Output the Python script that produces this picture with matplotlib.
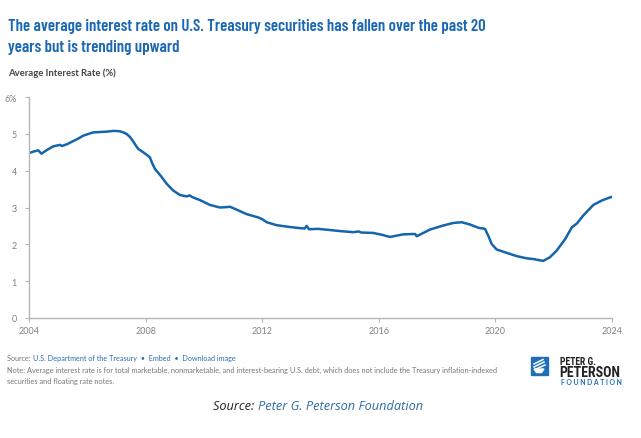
import matplotlib
matplotlib.use("Agg")
import matplotlib.pyplot as plt
from matplotlib.patches import Rectangle, Polygon

years = [2004.0, 2004.15, 2004.31, 2004.42, 2004.6, 2004.82, 2005.05, 2005.12, 2005.3, 2005.5,
         2005.7, 2005.85, 2006.0, 2006.2, 2006.45, 2006.66, 2006.9, 2007.1, 2007.23, 2007.35,
         2007.46, 2007.57, 2007.66, 2007.74, 2007.91, 2008.05, 2008.14, 2008.22, 2008.31, 2008.49,
         2008.72, 2008.94, 2009.17, 2009.4, 2009.5, 2009.6, 2009.86, 2010.2, 2010.54, 2010.75,
         2010.89, 2011.12, 2011.46, 2011.86, 2012.0, 2012.15, 2012.49, 2012.95, 2013.29, 2013.45,
         2013.52, 2013.6, 2013.92, 2014.3, 2014.66, 2015.12, 2015.3, 2015.4, 2015.8, 2016.1,
         2016.38, 2016.83, 2017.15, 2017.24, 2017.3, 2017.75, 2018.2, 2018.55, 2018.84, 2019.12,
         2019.41, 2019.64, 2019.75, 2019.87, 2020.04, 2020.38, 2020.73, 2021.07, 2021.3, 2021.64,
         2021.87, 2022.1, 2022.39, 2022.62, 2022.8, 2023.01, 2023.36, 2023.65, 2023.85, 2023.99]
rates = [4.48, 4.52, 4.55, 4.46, 4.56, 4.66, 4.70, 4.67, 4.72, 4.80,
         4.88, 4.95, 4.99, 5.04, 5.05, 5.06, 5.08, 5.07, 5.04, 4.99,
         4.91, 4.79, 4.68, 4.59, 4.50, 4.42, 4.36, 4.20, 4.05, 3.88,
         3.64, 3.46, 3.34, 3.30, 3.33, 3.28, 3.20, 3.07, 3.00, 3.01,
         3.02, 2.94, 2.82, 2.73, 2.68, 2.60, 2.52, 2.47, 2.44, 2.43,
         2.50, 2.41, 2.42, 2.39, 2.36, 2.33, 2.35, 2.32, 2.31, 2.26,
         2.20, 2.27, 2.28, 2.28, 2.22, 2.40, 2.51, 2.58, 2.60, 2.54,
         2.45, 2.42, 2.24, 2.01, 1.86, 1.77, 1.68, 1.62, 1.60, 1.55,
         1.65, 1.83, 2.14, 2.46, 2.57, 2.78, 3.07, 3.19, 3.25, 3.29]

x_ticks = [2004, 2008, 2012, 2016, 2020, 2024]
y_ticks = [0, 1, 2, 3, 4, 5, 6]
y_labels = ["0", "1", "2", "3", "4", "5", "6%"]

BLUE = "#1565ad"
TITLE_BLUE = "#1a68b3"
W, H = 641, 439

plt.rcParams['font.family'] = ['Lato', 'DejaVu Sans']
fig = plt.figure(figsize=(W / 100, H / 100), dpi=100)
renderer = fig.canvas.get_renderer()


def fx(px):
    return px / W


def fy(py):
    return 1 - py / H


def fit(t, target_px):
    """Scale a text's font size so its rendered width matches target_px."""
    for _ in range(3):
        w = t.get_window_extent(renderer).width
        t.set_fontsize(t.get_fontsize() * target_px / w)
    return t


def right_of(t):
    return t.get_window_extent(renderer).x1 / W


ax = fig.add_axes([fx(29.3), fy(319), fx(612) - fx(29.3), fy(98) - fy(319)])
ax.plot(years, rates, color=BLUE, lw=1.8, solid_capstyle='round', solid_joinstyle='round')
ax.set_xlim(2004, 2024)
ax.set_ylim(0, 6)
ax.set_xticks(x_ticks)
ax.set_xticklabels([str(t) for t in x_ticks])
ax.set_yticks(y_ticks)
ax.set_yticklabels(y_labels)
for s in ['top', 'right']:
    ax.spines[s].set_visible(False)
for s in ['left', 'bottom']:
    ax.spines[s].set_color("#b5b5b5")
    ax.spines[s].set_linewidth(1.0)
ax.tick_params(axis='both', colors="#b5b5b5", labelcolor="#808080", labelsize=6.5,
               length=3, width=0.8, pad=3)
ax.tick_params(axis='y', pad=6)

title_font = ['Barlow Condensed', 'Roboto Condensed', 'DejaVu Sans']
t1 = fig.text(fx(8), fy(31), "The average interest rate on U.S. Treasury securities has fallen over the past 20",
              color=TITLE_BLUE, fontsize=14, fontweight='semibold', family=title_font, va='baseline')
fit(t1, 477)
fig.text(fx(8), fy(52), "years but is trending upward",
         color=TITLE_BLUE, fontsize=t1.get_fontsize(), fontweight='semibold', family=title_font,
         va='baseline')
sub = fig.text(fx(8), fy(76), "Average Interest Rate (%)", color="#444444", fontsize=7.2,
               fontweight='bold', va='baseline')
fit(sub, 108)

# source line
t = fig.text(fx(7), fy(361), "Source: ", color="#777777", fontsize=5.2, va='baseline')
fig.text(right_of(t), fy(361), "U.S. Department of the Treasury  \u2022  Embed  \u2022  Download image",
         color="#2a6db5", fontsize=5.2, va='baseline')
note = fig.text(fx(7), fy(373), "Note: Average interest rate is for total marketable, nonmarketable, and interest-bearing U.S. debt, which does not include the Treasury inflation-indexed",
                color="#777777", fontsize=5.2, va='baseline')
fit(note, 486)
fig.text(fx(7), fy(384), "securities and floating rate notes.", color="#777777",
         fontsize=note.get_fontsize(), va='baseline')

# logo
fig.patches.append(Rectangle((fx(530.5), fy(375.5)), fx(547.5) - fx(530.5), fy(358) - fy(375.5),
                             transform=fig.transFigure, color="#1f6fb8"))
for (ax0, ay0, ax1, ay1) in [(534, 365, 543, 360.5), (534, 368, 544, 363), (535, 370.5, 545, 366)]:
    fig.lines.append(plt.Line2D([fx(ax0), fx(ax1)], [fy(ay0), fy(ay1)], transform=fig.transFigure,
                                color='white', lw=1.1))
fig.patches.append(Polygon([(fx(534), fy(370)), (fx(544), fy(370)), (fx(541.5), fy(373.5)),
                            (fx(536.5), fy(373.5))], closed=True, transform=fig.transFigure,
                           color='white'))
logo_font = ['Roboto Condensed', 'DejaVu Sans']
fig.text(fx(560), fy(365), "PETER G.", color="#222222", fontsize=7, fontweight='bold',
         family=logo_font, va='baseline')
fig.text(fx(559.5), fy(377), "PETERSON", color="#222222", fontsize=10, fontweight='bold',
         family=logo_font, va='baseline')
p3 = fig.text(fx(561), fy(385.5), "F O U N D A T I O N", color="#1f6fb8", fontsize=4.2,
              fontweight='bold', va='baseline')
fit(p3, 62)

# bottom caption
s1 = fig.text(fx(213), fy(410), "Source: ", color="#222222", fontsize=9, style='italic',
              family=['Open Sans', 'DejaVu Sans'], va='baseline')
s2 = fig.text(right_of(s1), fy(410), "Peter G. Peterson Foundation", color="#2d6ca8", fontsize=9,
              style='italic', family=['Open Sans', 'DejaVu Sans'], va='baseline')
total = s2.get_window_extent(renderer).x1 - s1.get_window_extent(renderer).x0
scale = 210 / total
s1.set_fontsize(9 * scale)
s2.set_fontsize(9 * scale)
s2.set_x(right_of(s1))

fig.savefig("out.png", dpi=100, facecolor='white')
